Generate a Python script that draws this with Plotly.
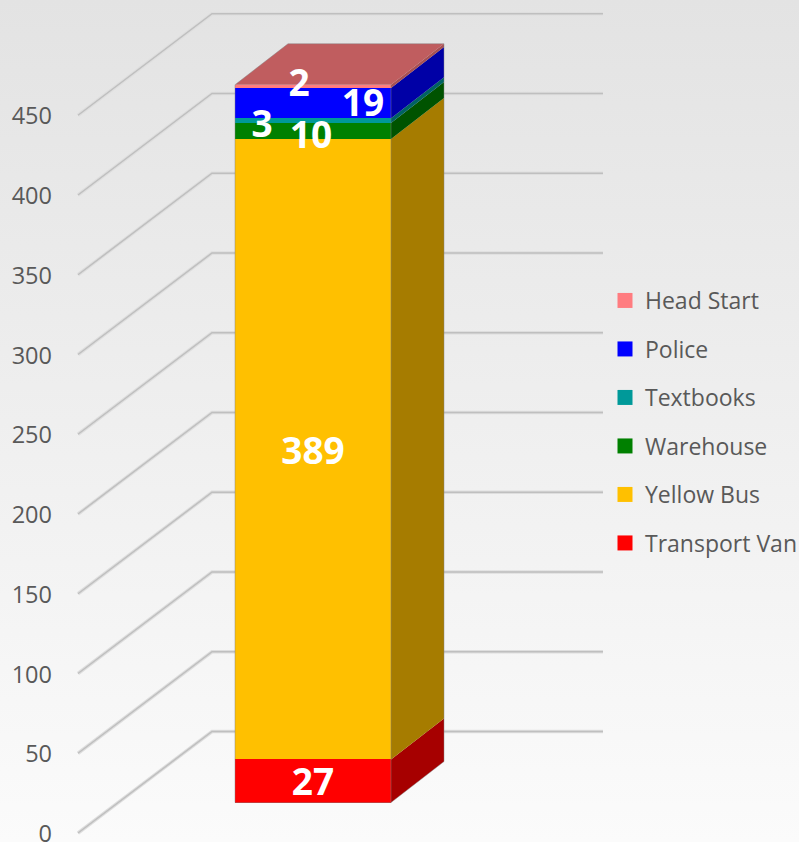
import plotly.graph_objects as go

# stack order is bottom to top
categories = ["Transport Van", "Yellow Bus", "Warehouse", "Textbooks", "Police", "Head Start"]
values = [27, 389, 10, 3, 19, 2]
tick_values = [0, 50, 100, 150, 200, 250, 300, 350, 400, 450]

front_colors = ["#ff0000", "#ffc000", "#008000", "#009999", "#0000ff", "#ff7c80"]
side_colors = ["#a60000", "#a67c00", "#005300", "#006363", "#0000a6", "#a65053"]
top_color = "#c05d5f"

# pixel offsets of the data labels from the middle of each segment
label_dx = [0, 0, -2, -51, 50, -14]
label_dy = [5, 6, 8, 7, 4, 0]

# the x axis runs in pixels, the y axis in chart units
WIDTH = 799
HEIGHT = 842
PX_PER_UNIT = 1.595
ZERO_PX = 833

Y_MIN = (ZERO_PX - HEIGHT) / PX_PER_UNIT
Y_MAX = ZERO_PX / PX_PER_UNIT

WALL_DX = 134
WALL_LIFT = 101.5 / PX_PER_UNIT
GRID_LEFT = 78
GRID_RIGHT = 603

BAR_LEFT = 235
BAR_WIDTH = 156
BAR_LIFT = 30.5 / PX_PER_UNIT
BAR_DX = 53
BAR_DY = 41 / PX_PER_UNIT

BAR_RIGHT = BAR_LEFT + BAR_WIDTH
BAR_MID = BAR_LEFT + BAR_WIDTH / 2

fig = go.Figure()

# ==========================================================
# BACKGROUND AND WALLS
# ==========================================================

fig.add_trace(go.Scatter(
    x=[0, WIDTH, WIDTH, 0, 0],
    y=[Y_MIN, Y_MIN, Y_MAX, Y_MAX, Y_MIN],
    mode="none",
    fill="toself",
    fillgradient=dict(
        type="vertical",
        colorscale=[[0, "#fbfbfb"], [1, "#e3e3e3"]],
        start=Y_MIN,
        stop=Y_MAX,
    ),
    showlegend=False,
    hoverinfo="skip",
))

# soft shadow first, then the line itself
for line_color, line_width in [("#dedede", 3.5), ("#bfbfbf", 1.5)]:
    for tick in tick_values:
        fig.add_trace(go.Scatter(
            x=[GRID_LEFT, GRID_LEFT + WALL_DX, GRID_RIGHT],
            y=[tick, tick + WALL_LIFT, tick + WALL_LIFT],
            mode="lines",
            line=dict(color=line_color, width=line_width),
            showlegend=False,
            hoverinfo="skip",
        ))

# ==========================================================
# STACKED COLUMN
# ==========================================================

base = BAR_LIFT
for i, name in enumerate(categories):
    low = base
    high = base + values[i]

    fig.add_trace(go.Bar(
        x=[BAR_MID],
        y=[values[i]],
        base=[low],
        width=[BAR_WIDTH],
        marker=dict(color=front_colors[i], line=dict(width=0)),
        name=name,
        showlegend=False,
        xaxis="x2",
        yaxis="y2",
    ))

    fig.add_trace(go.Scatter(
        x=[BAR_RIGHT, BAR_RIGHT + BAR_DX, BAR_RIGHT + BAR_DX, BAR_RIGHT, BAR_RIGHT],
        y=[low, low + BAR_DY, high + BAR_DY, high, low],
        mode="none",
        fill="toself",
        fillcolor=side_colors[i],
        showlegend=False,
        hoverinfo="skip",
        xaxis="x2",
        yaxis="y2",
    ))

    base = high

fig.add_trace(go.Scatter(
    x=[BAR_LEFT, BAR_RIGHT, BAR_RIGHT + BAR_DX, BAR_LEFT + BAR_DX, BAR_LEFT],
    y=[base, base, base + BAR_DY, base + BAR_DY, base],
    mode="none",
    fill="toself",
    fillcolor=top_color,
    showlegend=False,
    hoverinfo="skip",
    xaxis="x2",
    yaxis="y2",
))

# faint outline round the whole column
fig.add_trace(go.Scatter(
    x=[BAR_LEFT, BAR_LEFT, BAR_LEFT + BAR_DX, BAR_RIGHT + BAR_DX, BAR_RIGHT + BAR_DX, BAR_RIGHT, BAR_RIGHT, BAR_LEFT, None, BAR_RIGHT, BAR_RIGHT],
    y=[BAR_LIFT, base, base + BAR_DY, base + BAR_DY, BAR_LIFT + BAR_DY, BAR_LIFT, BAR_LIFT, BAR_LIFT, None, BAR_LIFT, base],
    mode="lines",
    line=dict(color="rgba(128,128,128,0.45)", width=1),
    showlegend=False,
    hoverinfo="skip",
    xaxis="x2",
    yaxis="y2",
))

# ==========================================================
# DATA LABELS
# ==========================================================

label_x = []
label_y = []
base = BAR_LIFT
for i, value in enumerate(values):
    label_x.append(BAR_MID + label_dx[i])
    label_y.append(base + value / 2 - label_dy[i] / PX_PER_UNIT)
    base += value

fig.add_trace(go.Scatter(
    x=label_x,
    y=label_y,
    mode="text",
    text=[str(v) for v in values],
    textposition="middle center",
    textfont=dict(family="Open Sans", size=37, color="white", weight="bold"),
    showlegend=False,
    hoverinfo="skip",
    xaxis="x2",
    yaxis="y2",
))

# ==========================================================
# LEGEND
# ==========================================================

for i in reversed(range(len(categories))):
    fig.add_trace(go.Scatter(
        x=[None],
        y=[None],
        mode="markers",
        marker=dict(symbol="square", size=15, color=front_colors[i]),
        name=categories[i],
        legendgroup=categories[i],
        xaxis="x2",
        yaxis="y2",
    ))

# ==========================================================
# LAYOUT
# ==========================================================

hidden_x = dict(range=[0, WIDTH], visible=False, fixedrange=True)

fig.update_layout(
    width=WIDTH,
    height=HEIGHT,
    margin=dict(l=0, r=0, t=0, b=0, pad=0, autoexpand=False),
    paper_bgcolor="#f2f2f2",
    plot_bgcolor="rgba(0,0,0,0)",
    font=dict(family="Open Sans", size=23, color="#595959"),
    showlegend=True,
    bargap=0,
    xaxis=dict(**hidden_x),
    xaxis2=dict(**hidden_x, overlaying="x"),
    yaxis=dict(
        range=[Y_MIN, Y_MAX],
        anchor="free",
        position=52 / WIDTH,
        tickvals=tick_values,
        ticks="",
        ticklabeloverflow="allow",
        ticklabelshift=1,
        showgrid=False,
        zeroline=False,
        showline=False,
        fixedrange=True,
        tickfont=dict(size=23.5, color="#595959"),
    ),
    yaxis2=dict(
        range=[Y_MIN, Y_MAX],
        overlaying="y",
        visible=False,
        fixedrange=True,
    ),
    legend=dict(
        x=605 / WIDTH,
        y=1 - 279 / HEIGHT,
        xanchor="left",
        yanchor="top",
        bgcolor="rgba(0,0,0,0)",
        traceorder="grouped",
        tracegroupgap=15.6,
        font=dict(size=23, color="#595959"),
        itemclick=False,
        itemdoubleclick=False,
    ),
)

fig.write_html(
    "out.html",
    config={"displayModeBar": False},
    post_script="document.body.style.margin = '0';",
)
